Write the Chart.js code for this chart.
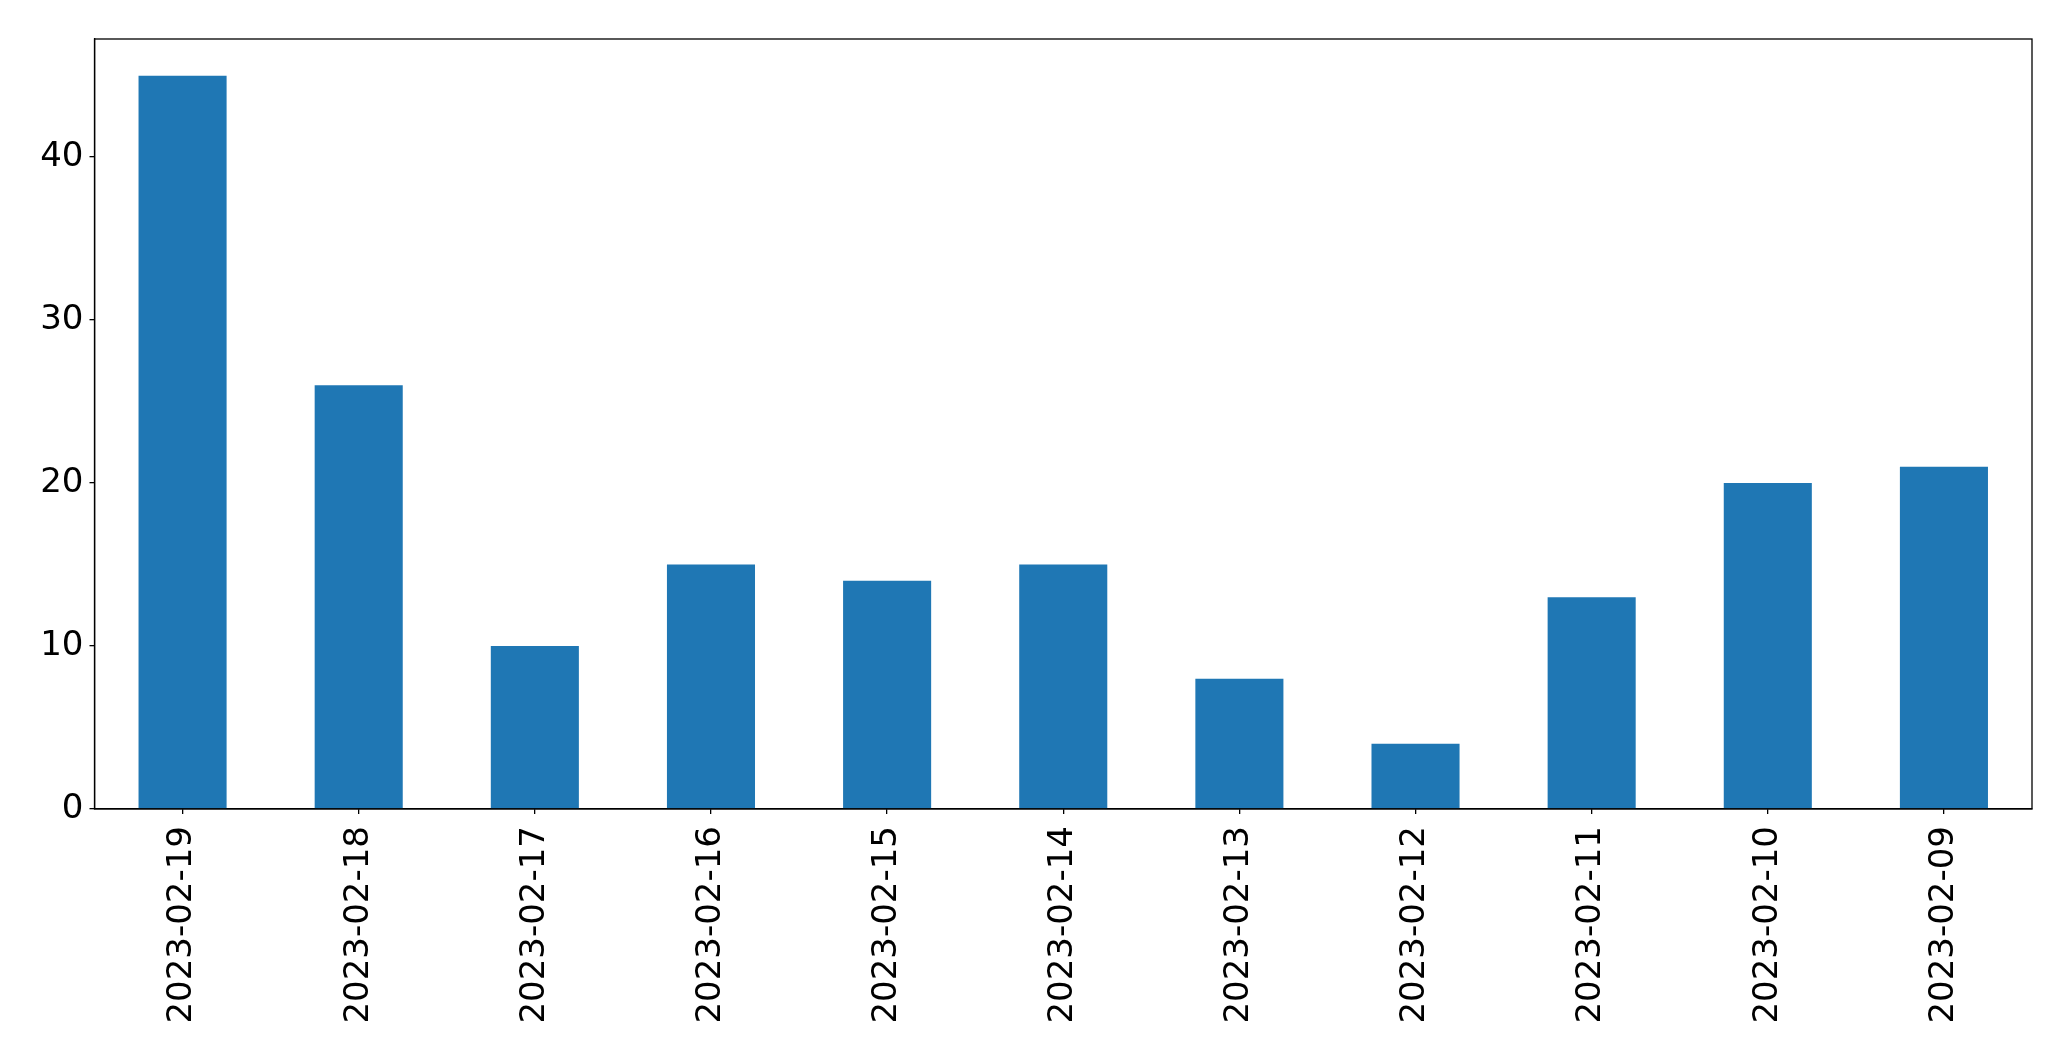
<!DOCTYPE html>
<html>
<head>
<meta charset="utf-8">
<script src="https://cdn.jsdelivr.net/npm/chart.js@4"></script>
<style>
  html, body { margin: 0; padding: 0; background: #fff; }
  #wrap { width: 2071px; height: 1061px; }
</style>
</head>
<body>
<div id="wrap"><canvas id="chart" width="2071" height="1061"></canvas></div>
<script>
/* ── Data ─────────────────────────────────────────────── */
const dates  = ['2023-02-19', '2023-02-18', '2023-02-17', '2023-02-16', '2023-02-15', '2023-02-14',
                '2023-02-13', '2023-02-12', '2023-02-11', '2023-02-10', '2023-02-09'];
const counts = [45, 26, 10, 15, 14, 15, 8, 4, 13, 20, 21];
const yTicks = [0, 10, 20, 30, 40];

const FONT = { family: 'DejaVu Sans', size: 34 };

// frame round the plot area (matplotlib spines)
const frame = {
  id: 'frame',
  afterDatasetsDraw(chart) {
    const { ctx, chartArea: a } = chart;
    ctx.save();
    ctx.strokeStyle = '#000';
    ctx.lineWidth = 1.3;
    ctx.strokeRect(a.left, a.top, a.right - a.left, a.bottom - a.top);
    ctx.restore();
  }
};

new Chart(document.getElementById('chart'), {
  type: 'bar',
  data: {
    labels: dates,
    datasets: [{
      data: counts,
      backgroundColor: '#1f77b4',
      borderWidth: 0,
      categoryPercentage: 0.5,
      barPercentage: 1.0,
    }]
  },
  options: {
    responsive: false,
    animation: false,
    devicePixelRatio: 1,
    layout: { padding: { left: 0, top: 39, right: 39, bottom: 0 } },
    plugins: { legend: { display: false }, tooltip: { enabled: false } },
    scales: {
      x: {
        offset: true,
        grid: { display: true, drawOnChartArea: false, drawTicks: true, tickLength: 5, color: '#000', lineWidth: 1.3, offset: false },
        border: { display: true, color: '#000', width: 1.3 },
        ticks: { color: '#000', font: FONT, minRotation: 90, maxRotation: 90, autoSkip: false, padding: 12 },
        afterFit(s) { s.height = 252; }
      },
      y: {
        min: 0,
        max: 47.25,
        grid: { display: true, drawOnChartArea: false, drawTicks: true, tickLength: 5, color: '#000', lineWidth: 1.3 },
        border: { display: true, color: '#000', width: 1.3 },
        ticks: { color: '#000', font: FONT, stepSize: 10, padding: 6 },
        afterBuildTicks(s) { s.ticks = yTicks.map(v => ({ value: v })); },
        afterFit(s) { s.width = 94.5; }
      }
    }
  },
  plugins: [frame]
});
</script>
</body>
</html>
